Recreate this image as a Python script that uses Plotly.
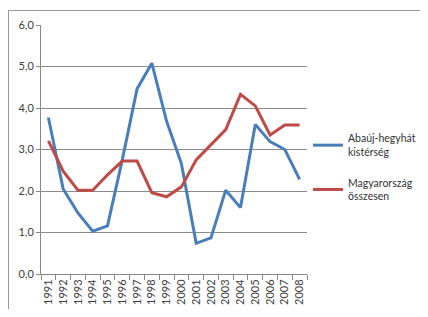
import plotly.graph_objects as go

years = [str(y) for y in range(1991, 2009)]
abauj = [3.77, 2.05, 1.47, 1.03, 1.16, 2.75, 4.46, 5.08, 3.68, 2.66, 0.74, 0.87, 2.02, 1.60, 3.60, 3.19, 3.00, 2.28]
magyar = [3.21, 2.48, 2.02, 2.02, 2.39, 2.72, 2.72, 1.96, 1.86, 2.10, 2.75, 3.12, 3.48, 4.33, 4.05, 3.35, 3.59, 3.59]
names = ["Abaúj-hegyhát<br>kistérség", "Magyarország<br>összesen"]
y_ticks = [0, 1, 2, 3, 4, 5, 6]

font = "Lato, Open Sans, sans-serif"

# page body has an 8px margin: figure occupies window x 8..420, y 8..309
W, H = 412, 301
L, R, T, B = 33, 113, 17, 35
pw, ph = W - L - R, H - T - B

fig = go.Figure()
fig.add_trace(go.Scatter(x=years, y=abauj, mode="lines", name=names[0], legendgroup="a",
                         line=dict(color="#4A7EBB", width=3)))
fig.add_trace(go.Scatter(x=years, y=magyar, mode="lines", name=names[1], legendgroup="b",
                         line=dict(color="#BE4B48", width=3)))

fig.update_layout(
    width=W, height=H,
    margin=dict(l=L, r=R, t=T, b=B, autoexpand=False),
    paper_bgcolor="white", plot_bgcolor="white",
    separators=",.",
    font=dict(family=font, size=11, color="#404040"),
    showlegend=True,
    legend=dict(x=(300 - L) / pw, y=(H - B - 117) / ph, xanchor="left", yanchor="top",
                font=dict(family=font, size=10.5, color="#333"),
                tracegroupgap=14, itemwidth=30, bgcolor="rgba(0,0,0,0)"),
    xaxis=dict(type="category", tickson="boundaries", ticks="outside", ticklen=5,
               range=[-0.5, 17.5], automargin=False,
               tickcolor="#888", showline=True, linecolor="#888", linewidth=1,
               showgrid=False, tickangle=-90, tickfont=dict(size=11)),
    yaxis=dict(range=[0, 6], tickvals=y_ticks, tickformat=".1f", ticks="outside",
               automargin=False,
               ticklen=4, tickcolor="#888", showline=True, linecolor="#888",
               gridcolor="#8a8a8a", gridwidth=1, zeroline=False,
               tickfont=dict(size=11)),
    shapes=[dict(type="rect", xref="paper", yref="paper",
                 x0=(0.5 - L) / pw, x1=1.6, y0=-0.3, y1=(H - B - 2.5) / ph,
                 line=dict(color="#999", width=1), fillcolor="rgba(0,0,0,0)",
                 layer="below")],
)

fig.write_html("out.html")
